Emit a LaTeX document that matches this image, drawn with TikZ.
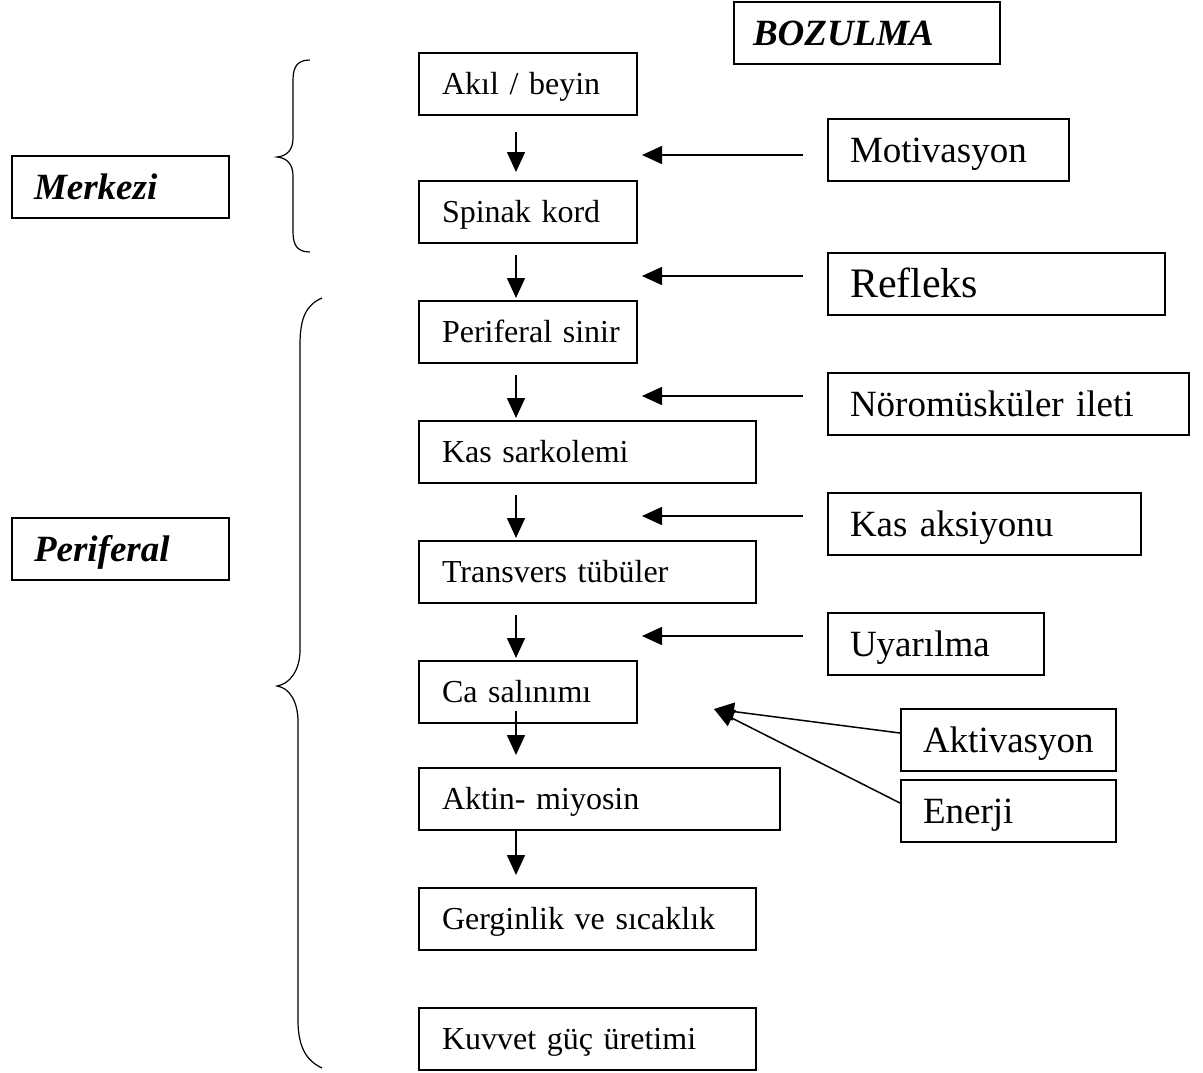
\documentclass[tikz,border=0pt]{standalone}
\usepackage{fontspec}
\setmainfont{Liberation Serif}
\usetikzlibrary{arrows.meta,calc}

\begin{document}
\begin{tikzpicture}[x=0.5pt, y=-0.5pt,
    pad/.style={execute at begin node={\hspace*{#1}}},
    box/.style={draw, line width=1pt, anchor=north west, inner xsep=0pt, inner ysep=0pt, minimum height=31pt, align=left},
    sm/.style={font=\fontsize{16}{19}\selectfont, pad=11.5pt, text height=10.6pt, text depth=0pt},
    md/.style={font=\fontsize{18.5}{22}\selectfont, pad=11pt, text height=12.2pt, text depth=0pt},
    lg/.style={font=\fontsize{21}{25}\selectfont, pad=11pt, text height=13.9pt, text depth=0pt},
    lbl/.style={font=\fontsize{18.5}{22}\selectfont\bfseries\itshape, text height=12.2pt, text depth=0pt},
    arr/.style={-{Triangle[length=10pt,width=9pt]}, line width=0.75pt},
    brace/.style={line width=0.6pt}
]
\useasboundingbox (0,0) rectangle (1203,1072);
% main chain
\node[box, sm, text width=109pt] (akil) at (418,52) {Akıl / beyin};
\node[box, sm, text width=109pt] (spinak) at (418,180) {Spinak kord};
\node[box, sm, text width=109pt] (psinir) at (418,300) {Periferal sinir};
\node[box, sm, text width=168.5pt] (kassark) at (418,420) {Kas sarkolemi};
\node[box, sm, text width=168.5pt] (transv) at (418,540) {Transvers tübüler};
\node[box, sm, text width=109pt] (ca) at (418,660) {Ca salınımı};
\node[box, sm, text width=180.5pt] (aktin) at (418,767) {Aktin- miyosin};
\node[box, sm, text width=168.5pt] (gergin) at (418,887) {Gerginlik ve sıcaklık};
\node[box, sm, text width=168.5pt] (kuvvet) at (418,1007) {Kuvvet güç üretimi};
% factors on the right
\node[box, lbl, pad=9.5pt, text width=133pt, text depth=-2pt] (bozul) at (733,1) {BOZULMA};
\node[box, md, text width=120.5pt] (motiv) at (827,118) {Motivasyon};
\node[box, lg, text width=168.5pt] (refleks) at (827,252) {Refleks};
\node[box, md, text width=180.5pt] (noro) at (827,372) {Nöromüsküler ileti};
\node[box, md, text width=156.5pt] (kasaks) at (827,492) {Kas aksiyonu};
\node[box, md, text width=108pt] (uyar) at (827,612) {Uyarılma};
\node[box, md, text width=107.5pt] (aktiv) at (900,708) {Aktivasyon};
\node[box, md, text width=107.5pt] (enerji) at (900,779) {Enerji};
% group labels
\node[box, lbl, pad=11pt, text width=108.5pt] (merkezi) at (11,155) {Merkezi};
\node[box, lbl, pad=11pt, text width=108.5pt] (perif) at (11,517) {Periferal};

% down arrows
\foreach \a/\b/\s/\e in {akil/spinak/16/-8, spinak/psinir/11/-2, psinir/kassark/11/-2, kassark/transv/11/-2, transv/ca/11/-2, ca/aktin/-13/-12, aktin/gergin/0/-12}
  \draw[arr] ($(\a.south west)+(98,\s)$) -- ($(\b.north west)+(98,\e)$);

% side arrows
\foreach \src/\dy in {motiv/37, refleks/24, noro/24, kasaks/24, uyar/24} {
  \path ($(\src.north west)+(-24,\dy)$) coordinate (s\src);
  \draw[arr] (s\src) -- ($(s\src -| akil.east)+(4,0)$);
}
\coordinate (catip) at ($(ca.east)+(76,17)$);
\draw[arr] ($(aktiv.west)+(0,-7)$) -- (catip);
\draw[arr] ($(enerji.west)+(0,-8)$) -- (catip);

% braces
\draw[brace] (310,60) .. controls (298,60) and (293,66) .. (293,80) -- (293,138)
  .. controls (293,150) and (287,156) .. (277,157) .. controls (287,158) and (293,164) .. (293,176)
  -- (293,232) .. controls (293,246) and (298,252) .. (310,252);
\draw[brace] (322,298) .. controls (306,305) and (300,318) .. (300,345) -- (300,650)
  .. controls (300,670) and (290,684) .. (277,686) .. controls (290,688) and (298,702) .. (298,722)
  -- (298,1020) .. controls (298,1045) and (305,1060) .. (322,1068);
\end{tikzpicture}
\end{document}
